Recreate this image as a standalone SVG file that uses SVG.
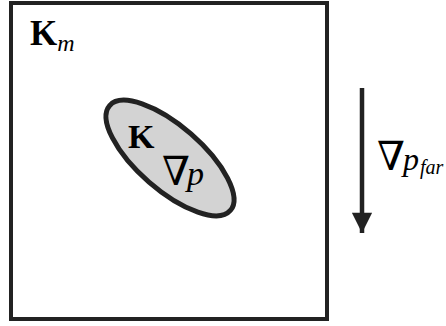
<svg xmlns="http://www.w3.org/2000/svg" width="446" height="326" viewBox="0 0 446 326">
<style>
.t{font-family:"Liberation Serif","Times New Roman",serif;fill:#000}
.b{font-weight:bold}
.i{font-style:italic}
.n{font-family:"DejaVu Serif",serif}
</style>
<defs>
<marker id="ah" viewBox="0 0 10 10" refX="10" refY="5" markerWidth="5.8" markerHeight="4.5" markerUnits="strokeWidth" orient="auto">
<path d="M0,0 L10,5 L0,10 Z" fill="#222"/>
</marker>
</defs>
<g id="domain">
<rect x="11" y="3" width="316" height="316" fill="#fff" stroke="#222" stroke-width="4"/>
<text class="t" x="30" y="45" font-size="35"><tspan class="b">K</tspan><tspan class="i" font-size="24" dy="6">m</tspan></text>
</g>
<g id="inclusion">
<ellipse cx="170" cy="158" rx="80" ry="32" transform="rotate(41 170 158)" fill="#d3d3d3" stroke="#222" stroke-width="5"/>
<text class="t b" x="128" y="148" font-size="34">K</text>
<text class="t" y="185" font-size="34"><tspan class="n" x="162" font-size="40">∇</tspan><tspan class="i" x="187">p</tspan></text>
</g>
<g id="connectors">
<line x1="362" y1="88" x2="362" y2="233" stroke="#222" stroke-width="4.5" marker-end="url(#ah)"/>
</g>
<g id="label-far">
<text class="t" y="170" font-size="32"><tspan class="n" x="377" font-size="40">∇</tspan><tspan class="i" x="403">p</tspan><tspan class="i" x="420" font-size="20" dy="4">far</tspan></text>
</g>
</svg>
